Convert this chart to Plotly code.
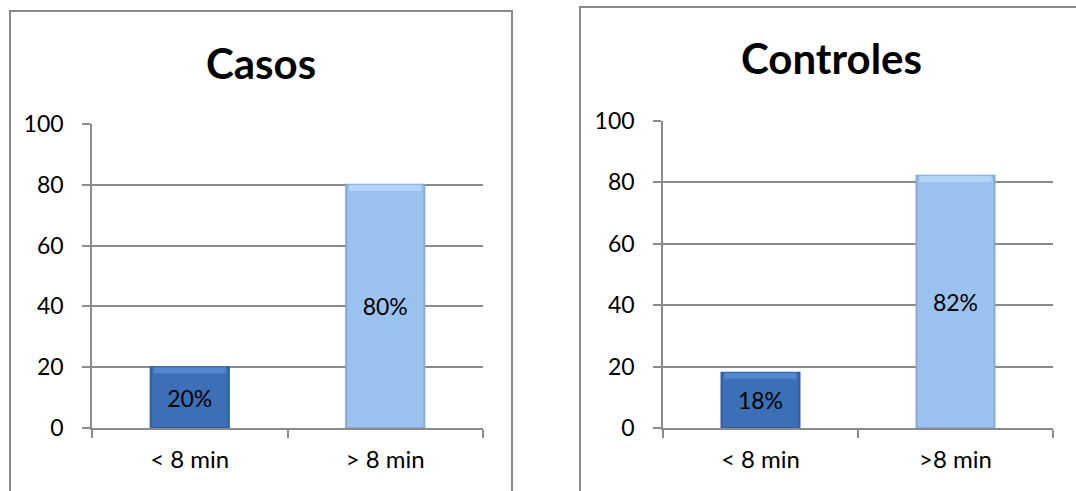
import plotly.graph_objects as go

# ---- data ----
casos_categories = ["< 8 min", "> 8 min"]
casos_values = [20, 80]
casos_labels = ["20%", "80%"]

controles_categories = ["< 8 min", ">8 min"]
controles_values = [18, 82]
controles_labels = ["18%", "82%"]

titles = ["Casos", "Controles"]
y_ticks = [0, 20, 40, 60, 80, 100]

W, H = 1076, 491
FONT = "Lato"
GRID = "#8a8a8a"
DARK = "#3c6fb5"
DARK_LINE = "#305f9c"
DARK_TOP = "#5288d0"
LIGHT = "#9bc1ef"
LIGHT_LINE = "#85abd8"
LIGHT_TOP = "#b3d5f8"
BEVEL = 2.0  # thickness of the top highlight, in axis units (style only)

def px_x(p):
    return p / W

def px_y(p):
    return (H - p) / H

fig = go.Figure()

panels = [
    dict(cats=casos_categories, vals=casos_values, labels=casos_labels,
         xa="x", ya="y", xdom=[px_x(92), px_x(483)], ydom=[px_y(428), px_y(124)]),
    dict(cats=controles_categories, vals=controles_values, labels=controles_labels,
         xa="x2", ya="y2", xdom=[px_x(663), px_x(1053)], ydom=[px_y(428), px_y(120.5)]),
]

for p in panels:
    fig.add_trace(go.Bar(
        x=p["cats"], y=p["vals"], text=p["labels"],
        xaxis=p["xa"], yaxis=p["ya"],
        marker=dict(color=[DARK, LIGHT], line=dict(color=[DARK_LINE, LIGHT_LINE], width=2)),
        textposition="inside", insidetextanchor="middle",
        textfont=dict(family=FONT, size=23, color="black"),
        textangle=0, width=0.4, showlegend=False, hoverinfo="skip",
    ))
    # top bevel highlight, following each bar's value
    fig.add_trace(go.Bar(
        x=p["cats"], y=[BEVEL for _ in p["vals"]], base=[v - BEVEL for v in p["vals"]],
        xaxis=p["xa"], yaxis=p["ya"],
        marker=dict(color=[DARK_TOP, LIGHT_TOP], line=dict(width=0)),
        width=0.37, showlegend=False, hoverinfo="skip",
    ))

axis_common_x = dict(
    type="category", showline=True, linecolor=GRID, linewidth=1.5,
    ticks="outside", ticklen=8, tickcolor=GRID, tickwidth=1.5,
    tickson="boundaries", showgrid=False, automargin=False,
    tickfont=dict(family=FONT, size=24, color="black"),
    ticklabelstandoff=9, fixedrange=True,
)
axis_common_y = dict(
    range=[0, 100], tickvals=y_ticks, showline=True, linecolor=GRID, linewidth=1.5,
    ticks="outside", ticklen=8, tickcolor=GRID, tickwidth=1.5,
    showgrid=True, gridcolor=GRID, gridwidth=1.5, zeroline=False, automargin=False,
    tickfont=dict(family=FONT, size=23, color="black"),
    ticklabelstandoff=14, fixedrange=True,
)

fig.update_layout(
    width=W, height=H,
    margin=dict(l=0, r=0, t=0, b=0, pad=0),
    paper_bgcolor="white", plot_bgcolor="white",
    barmode="overlay",
    xaxis=dict(domain=panels[0]["xdom"], anchor="y", **axis_common_x),
    yaxis=dict(domain=panels[0]["ydom"], anchor="x", **axis_common_y),
    xaxis2=dict(domain=panels[1]["xdom"], anchor="y2", **axis_common_x),
    yaxis2=dict(domain=panels[1]["ydom"], anchor="x2", **axis_common_y),
    shapes=[
        dict(type="rect", xref="paper", yref="paper",
             x0=px_x(10), x1=px_x(512), y0=-0.05, y1=px_y(11),
             line=dict(color=GRID, width=2), layer="below"),
        dict(type="rect", xref="paper", yref="paper",
             x0=px_x(580), x1=1.05, y0=-0.05, y1=px_y(7),
             line=dict(color=GRID, width=2), layer="below"),
    ],
    annotations=[
        dict(text="<b>" + titles[0] + "</b>", xref="paper", yref="paper",
             x=px_x(261), y=px_y(63), xanchor="center", yanchor="middle",
             showarrow=False, font=dict(family=FONT, size=42, color="black")),
        dict(text="<b>" + titles[1] + "</b>", xref="paper", yref="paper",
             x=px_x(831), y=px_y(58), xanchor="center", yanchor="middle",
             showarrow=False, font=dict(family=FONT, size=42, color="black")),
    ],
)

fig.write_html(
    "out.html",
    config={"displayModeBar": False},
    post_script="document.body.style.margin='0';document.body.style.overflow='hidden';",
)
